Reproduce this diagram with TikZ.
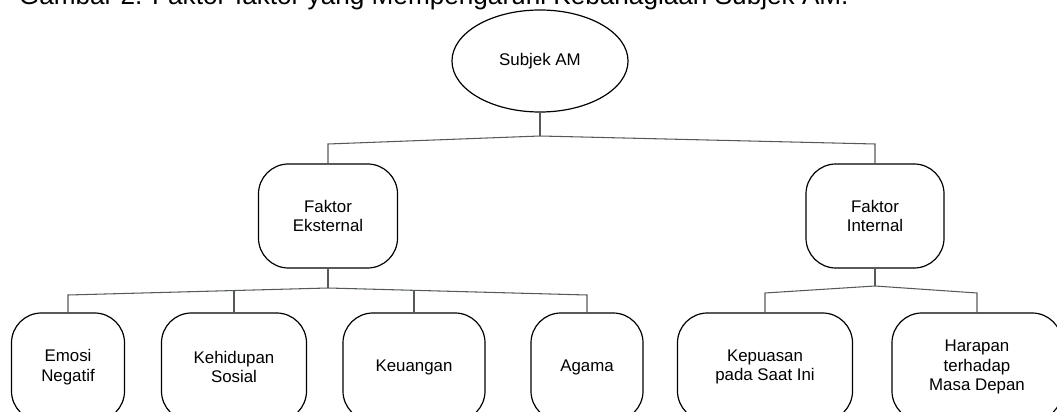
\documentclass[tikz,border=0pt]{standalone}
\usepackage{fontspec}
\setmainfont{Liberation Sans}
\usepackage{tikz}
\usetikzlibrary{shapes.geometric}
\definecolor{linkgray}{RGB}{84,90,88}

\begin{document}
\begin{tikzpicture}[x=0.025cm,y=-0.025cm,
	box/.style={draw,line width=0.85pt,rounded corners=0.75cm,align=center,inner sep=0pt,font=\fontsize{12}{14}\selectfont},
	link/.style={draw=linkgray,line width=0.75pt}]
	\useasboundingbox (0,0) rectangle (1057,412);
	\node[anchor=base west,font=\fontsize{18.6}{22}\selectfont] (judul) at (14,5) {Gambar 2. Faktor-faktor yang Mempengaruhi Kebahagiaan Subjek AM.};
	\node[draw,ellipse,line width=0.85pt,minimum width=4.4cm,minimum height=2.55cm,inner sep=0pt,font=\fontsize{12}{14}\selectfont] (subjek) at (540,61) {Subjek AM};
	\node[box,minimum width=3.475cm,minimum height=2.6cm] (eksternal) at (328,216) {Faktor\\Eksternal};
	\node[box,minimum width=3.45cm,minimum height=2.6cm] (internal) at (875,216) {Faktor\\Internal};
	\node[box,minimum width=2.825cm,minimum height=2.7cm] (emosi) at (68,367) {Emosi\\Negatif};
	\node[box,minimum width=3.625cm,minimum height=2.7cm] (sosial) at (234,367) {Kehidupan\\Sosial};
	\node[box,minimum width=3.55cm,minimum height=2.7cm] (uang) at (414,367) {Keuangan};
	\node[box,minimum width=2.8cm,minimum height=2.7cm] (agama) at (587,367) {Agama};
	\node[box,minimum width=4.375cm,minimum height=2.7cm] (puas) at (765,367) {Kepuasan\\pada Saat Ini};
	\node[box,minimum width=4.25cm,minimum height=2.7cm] (harapan) at (977,367) {Harapan\\terhadap\\Masa Depan};
	\coordinate (cabang) at (540,136);
	\coordinate (kiri) at (328,144);
	\coordinate (kanan) at (875,144);
	\coordinate (cabangEks) at (328,288);
	\coordinate (emosiTop) at (68,295);
	\coordinate (sosialTop) at (234,291);
	\coordinate (uangTop) at (414,291);
	\coordinate (agamaTop) at (587,295);
	\coordinate (cabangInt) at (875,286);
	\coordinate (puasTop) at (765,293);
	\coordinate (harapanTop) at (977,293);
	\draw[link] (subjek.south) -- (cabang);
	\draw[link] (eksternal.north) -- (kiri) -- (cabang) -- (kanan) -- (internal.north);
	\draw[link] (eksternal.south) -- (cabangEks);
	\draw[link] (emosi.north) -- (emosiTop) -- (cabangEks) -- (agamaTop) -- (agama.north);
	\draw[link] (sosial.north) -- (sosialTop);
	\draw[link] (uang.north) -- (uangTop);
	\draw[link] (internal.south) -- (cabangInt);
	\draw[link] (puas.north) -- (puasTop) -- (cabangInt) -- (harapanTop) -- (harapan.north);
\end{tikzpicture}
\end{document}
